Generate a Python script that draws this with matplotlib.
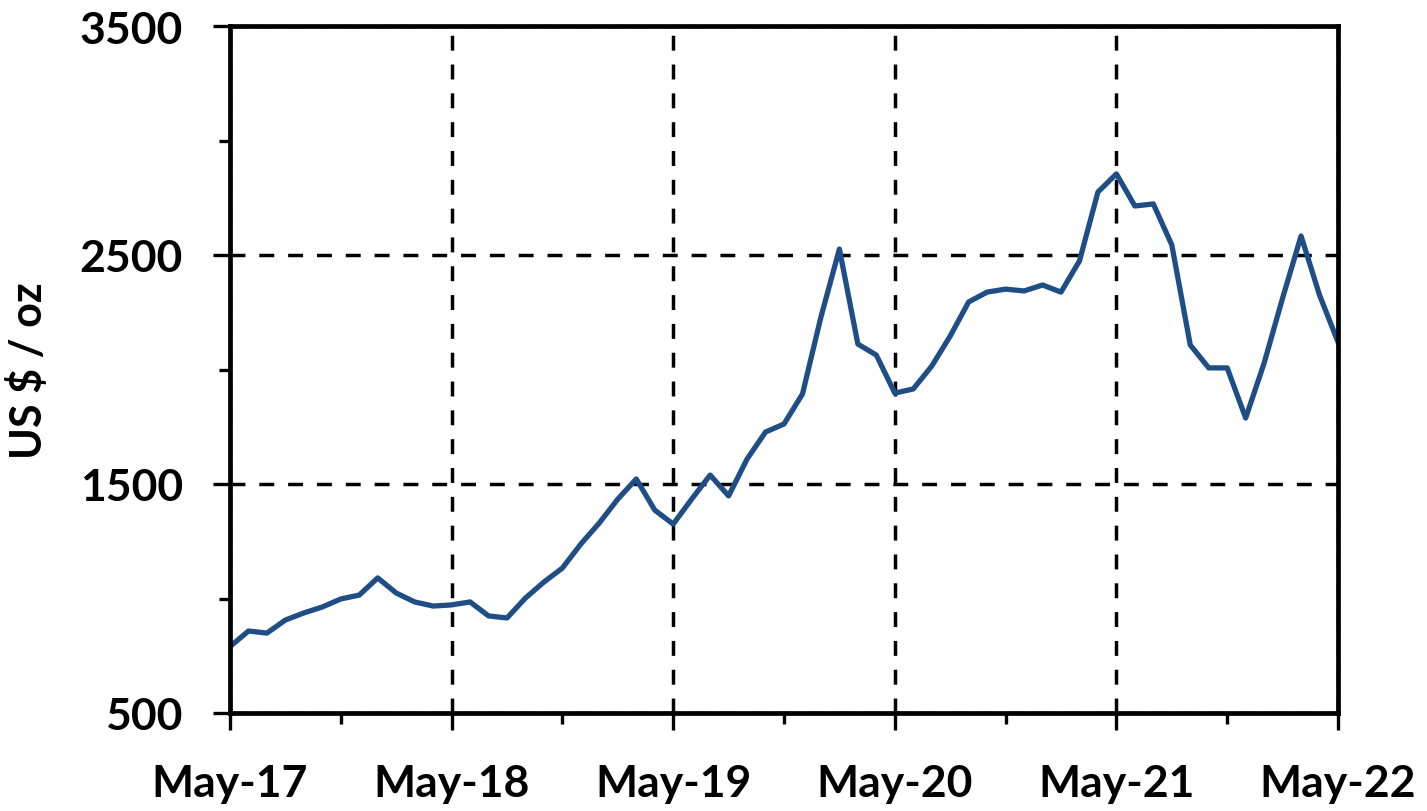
import matplotlib
matplotlib.use("Agg")
import matplotlib.pyplot as plt
import numpy as np
import pandas as pd

# Monthly prices, May-2017 .. May-2022 (US $ / oz)
prices = [790, 858, 849, 906, 937, 963, 998, 1015, 1090, 1024,
          985, 967, 972, 985, 924, 915, 1002, 1072, 1133, 1238,
          1330, 1434, 1522, 1386, 1325, 1434, 1539, 1448, 1609, 1727,
          1762, 1893, 2229, 2526, 2111, 2063, 1897, 1915, 2015, 2146,
          2295, 2338, 2351, 2343, 2369, 2338, 2474, 2775, 2854, 2714,
          2723, 2544, 2107, 2007, 2007, 1788, 2028, 2312, 2583, 2325,
          2120]
months = pd.date_range("2017-05-01", periods=len(prices), freq="MS")
x_labels = ["May-17", "May-18", "May-19", "May-20", "May-21", "May-22"]
y_major = [500, 1500, 2500, 3500]
y_minor = [1000, 2000, 3000]
y_label = "US $ / oz"

plt.rcParams['font.family'] = ['Lato', 'DejaVu Sans']
plt.rcParams['font.weight'] = 'bold'

fig = plt.figure(figsize=(14.27, 8.12), dpi=100)
ax = fig.add_axes([230/1427, 1-714/812, (1338-230)/1427, (714-27)/812])

xi = np.arange(len(prices))
ax.plot(xi, prices, color="#1F4E87", lw=3.8, solid_joinstyle="round", zorder=3)

ax.set_xlim(0, len(prices) - 1)
ax.set_ylim(500, 3500)
ax.set_xticks(np.arange(0, len(prices), 12))
ax.set_xticklabels(x_labels)
ax.set_xticks(np.arange(6, len(prices), 12), minor=True)
ax.set_yticks(y_major)
ax.set_yticks(y_minor, minor=True)

ax.grid(True, which="major", color="black", linestyle=(0, (4.3, 4.0)), lw=2.5)

for s in ax.spines.values():
    s.set_linewidth(3.4)
    s.set_zorder(4)

ax.tick_params(axis="both", which="major", direction="out", length=12, width=2.4,
               labelsize=32)
ax.tick_params(axis="both", which="minor", direction="out", length=8, width=2.4)
ax.tick_params(axis="x", which="major", pad=24)
ax.tick_params(axis="y", which="major", pad=22)
for lab in ax.get_xticklabels() + ax.get_yticklabels():
    lab.set_fontweight("bold")

ax.set_ylabel(y_label, fontsize=31, fontweight="bold", labelpad=22)

fig.savefig("out.png", dpi=100)
